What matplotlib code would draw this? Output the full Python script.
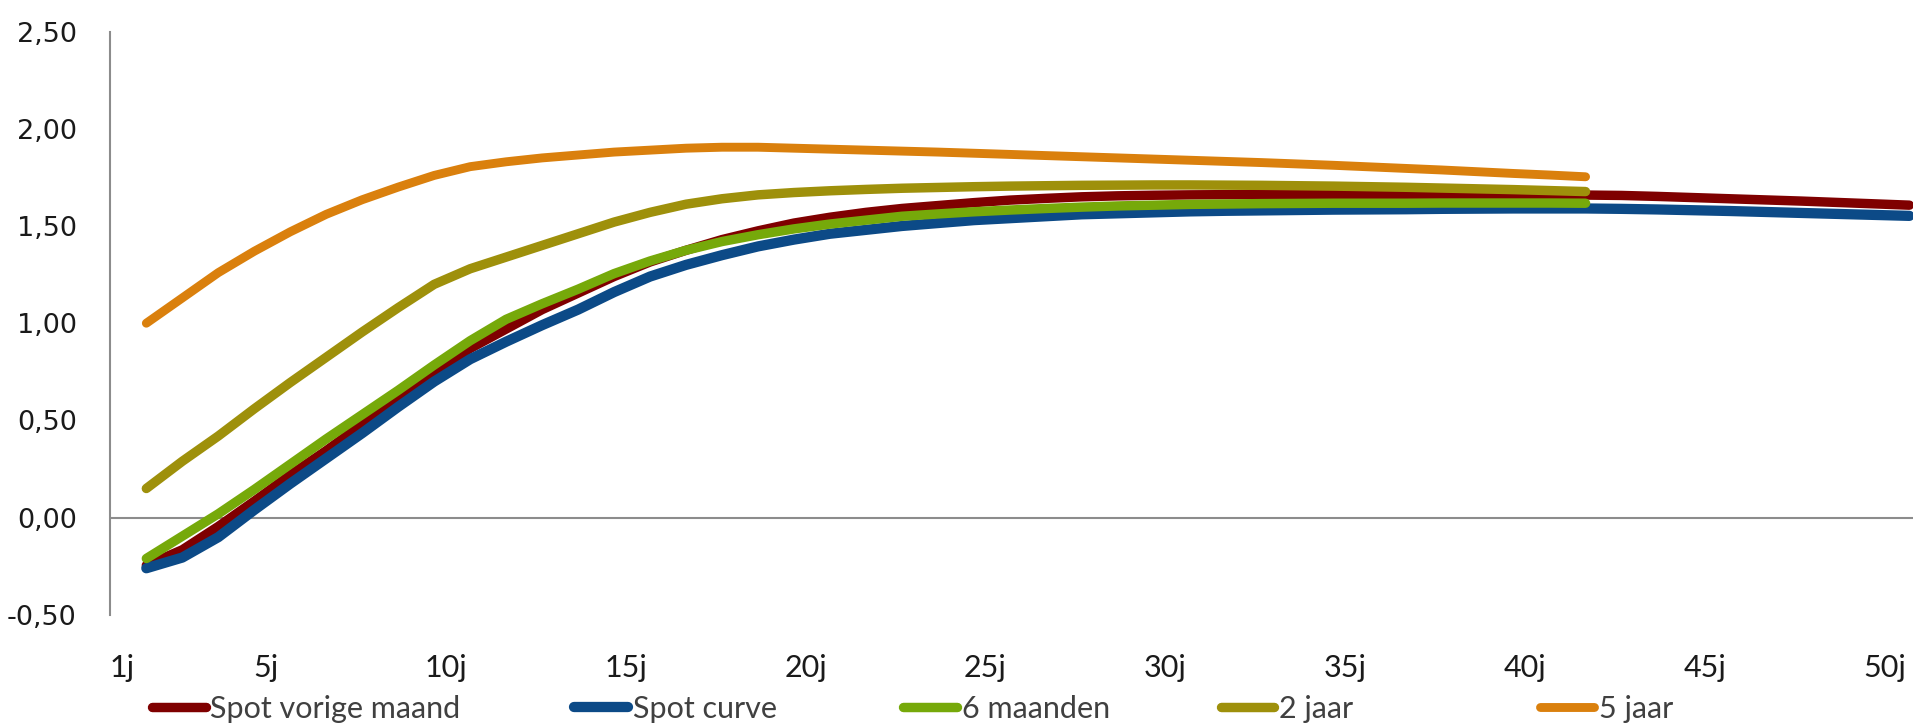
import numpy as np
import matplotlib.pyplot as plt

# looptijden (jaren) en rentes in %
years_long = list(range(1, 51))
years_short = list(range(1, 42))

spot_vorige_maand = [
    -0.245, -0.165, -0.045, 0.085, 0.22, 0.345, 0.48, 0.615, 0.75, 0.87,
    0.97, 1.07, 1.155, 1.24, 1.315, 1.375, 1.43, 1.475, 1.515, 1.545,
    1.57, 1.59, 1.605, 1.62, 1.633, 1.642, 1.65, 1.655, 1.658, 1.66,
    1.661, 1.662, 1.662, 1.662, 1.661, 1.661, 1.66, 1.66, 1.66, 1.659,
    1.659, 1.657, 1.652, 1.646, 1.64, 1.634, 1.628, 1.621, 1.614, 1.607,
]
spot_curve = [
    -0.26, -0.205, -0.10, 0.04, 0.175, 0.305, 0.435, 0.57, 0.70, 0.815,
    0.905, 0.99, 1.07, 1.16, 1.24, 1.30, 1.35, 1.395, 1.43, 1.46,
    1.48, 1.50, 1.515, 1.53, 1.54, 1.55, 1.56, 1.565, 1.57, 1.575,
    1.578, 1.58, 1.582, 1.584, 1.585, 1.586, 1.588, 1.589, 1.59, 1.59,
    1.59, 1.588, 1.585, 1.581, 1.577, 1.572, 1.567, 1.562, 1.557, 1.552,
]
zes_maanden = [
    -0.21, -0.095, 0.02, 0.145, 0.275, 0.405, 0.53, 0.655, 0.785, 0.91,
    1.02, 1.10, 1.175, 1.255, 1.32, 1.375, 1.42, 1.455, 1.485, 1.51,
    1.53, 1.55, 1.562, 1.573, 1.582, 1.59, 1.597, 1.603, 1.607, 1.611,
    1.613, 1.615, 1.616, 1.617, 1.617, 1.617, 1.618, 1.618, 1.618, 1.618,
    1.617,
]
twee_jaar = [
    0.15, 0.29, 0.42, 0.56, 0.695, 0.825, 0.955, 1.08, 1.20, 1.28,
    1.34, 1.40, 1.46, 1.52, 1.57, 1.612, 1.64, 1.66, 1.672, 1.681,
    1.688, 1.694, 1.698, 1.702, 1.705, 1.707, 1.709, 1.71, 1.711, 1.711,
    1.71, 1.709, 1.707, 1.705, 1.702, 1.699, 1.695, 1.691, 1.687, 1.682,
    1.677,
]
vijf_jaar = [
    1.00, 1.13, 1.26, 1.37, 1.47, 1.56, 1.635, 1.70, 1.76, 1.805,
    1.83, 1.85, 1.865, 1.88, 1.89, 1.90, 1.905, 1.905, 1.90, 1.895,
    1.89, 1.885, 1.88, 1.874, 1.868, 1.862, 1.856, 1.85, 1.844, 1.838,
    1.832, 1.826, 1.819, 1.812, 1.804, 1.796, 1.788, 1.779, 1.77, 1.762,
    1.753,
]

tick_years = [1, 5, 10, 15, 20, 25, 30, 35, 40, 45, 50]
tick_labels = [f"{y}j" for y in tick_years]
y_ticks = [-0.5, 0.0, 0.5, 1.0, 1.5, 2.0, 2.5]

series = [
    ("Spot vorige maand", years_long, spot_vorige_maand, "#7f0000", 6.8),
    ("Spot curve", years_long, spot_curve, "#0c4a87", 7.4),
    ("6 maanden", years_short, zes_maanden, "#76a90a", 6.8),
    ("2 jaar", years_short, twee_jaar, "#9e900b", 6.8),
    ("5 jaar", years_short, vijf_jaar, "#da800d", 6.4),
]

label_font = ["Lato", "DejaVu Sans"]

fig = plt.figure(figsize=(19.13, 7.26), dpi=100)
ax = fig.add_axes([0.0575, 0.153, 0.9425, 0.8036])

handles = []
for name, xs, ys, color, lw in series:
    (line,) = ax.plot(xs, ys, color=color, lw=lw, solid_capstyle="round",
                      solid_joinstyle="round", label=name)
    handles.append(line)

ax.set_xlim(-0.01, 50.1)
ax.set_ylim(-0.5, 2.5)
ax.axhline(0, color="#8c8c8c", lw=1.5, zorder=0)

for side in ["top", "right", "bottom"]:
    ax.spines[side].set_visible(False)
ax.spines["left"].set_color("#8c8c8c")
ax.spines["left"].set_linewidth(1.5)

ax.set_yticks(y_ticks)
ax.set_yticklabels([f"{v:.2f}".replace(".", ",") for v in y_ticks],
                   fontsize=19.5, color="#1a1a1a", family="DejaVu Sans")
ax.tick_params(axis="y", length=0, pad=24)

# Excel zet de categorielabels iets links van de datapunten
ax.set_xticks([y - 0.68 for y in tick_years])
ax.set_xticklabels(tick_labels, fontsize=22, color="#1a1a1a", family=label_font)
ax.tick_params(axis="x", length=0, pad=28)

legend_x = [0.0795, 0.3002, 0.4722, 0.6381, 0.8051]
for h, lx in zip(handles, legend_x):
    leg = fig.legend(handles=[h], loc="center left", bbox_to_anchor=(lx, 0.024),
                     frameon=False, handlelength=1.75, handletextpad=0.16,
                     borderpad=0, borderaxespad=0,
                     prop={"family": label_font, "size": 22})
    for t in leg.get_texts():
        t.set_color("#404040")

fig.savefig("out.png", dpi=100)
